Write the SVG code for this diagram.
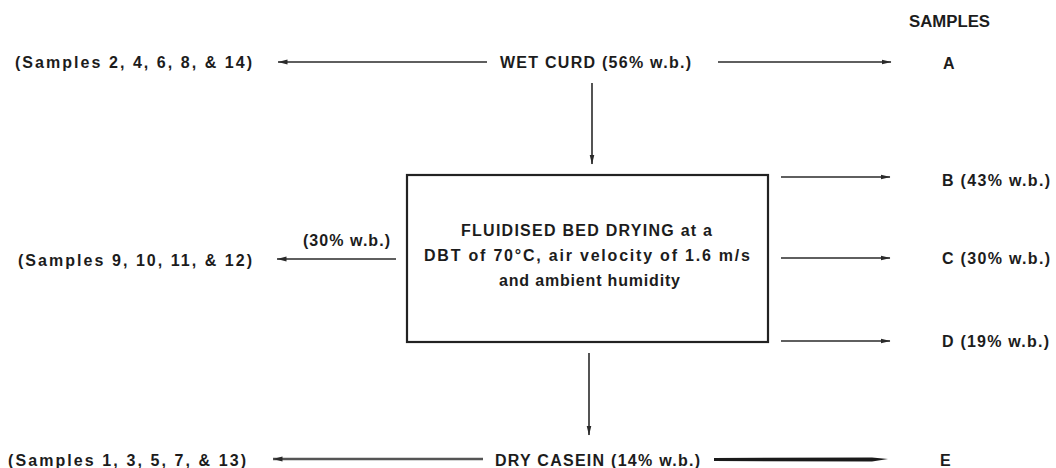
<svg xmlns="http://www.w3.org/2000/svg" width="1056" height="468" viewBox="0 0 1056 468">
  <defs>
    <style>
      .t { font-family: "Liberation Sans", Arial, sans-serif; font-size: 16px; font-weight: bold; fill: #1c1c1c; }
      .ln { stroke: #2a2a2a; stroke-width: 1.6; fill: none; }
      .box { stroke: #222; stroke-width: 2.2; fill: #ffffff; }
    </style>
    <marker id="ah" viewBox="0 0 10 6" refX="9.5" refY="3" markerWidth="10" markerHeight="6" markerUnits="userSpaceOnUse" orient="auto">
      <path d="M0,0.6 L10,3 L0,5.4 Z" fill="#2a2a2a"/>
    </marker>
    <marker id="ahv" viewBox="0 0 8 10" refX="4" refY="9.5" markerWidth="8" markerHeight="10" markerUnits="userSpaceOnUse" orient="auto-start-reverse">
      <path d="M0,0 L8,0 L4,10 Z" fill="#2a2a2a" transform="rotate(-90 4 5)"/>
    </marker>
  </defs>
  <rect width="1056" height="468" fill="#ffffff"/>

  <text class="t" x="909" y="27" textLength="81" lengthAdjust="spacingAndGlyphs">SAMPLES</text>

  <g id="connectors">
    <line class="ln" x1="487" y1="62" x2="278" y2="62" marker-end="url(#ah)"/>
    <line class="ln" x1="718" y1="62" x2="891" y2="62" marker-end="url(#ah)"/>
    <line class="ln" x1="592" y1="83" x2="592" y2="164" marker-end="url(#ah)"/>
    <line class="ln" x1="396" y1="259" x2="277" y2="259" marker-end="url(#ah)"/>
    <line class="ln" x1="781" y1="177" x2="890" y2="177" marker-end="url(#ah)"/>
    <line class="ln" x1="781" y1="258" x2="890" y2="258" marker-end="url(#ah)"/>
    <line class="ln" x1="781" y1="341" x2="890" y2="341" marker-end="url(#ah)"/>
    <line class="ln" x1="589" y1="353" x2="589" y2="435" marker-end="url(#ah)"/>
    <line x1="483" y1="459" x2="273" y2="459" stroke="#555" stroke-width="2.4" marker-end="url(#ah)"/>
    <path d="M714,458 L872,457.5 L888,459 L872,461.5 L714,461 Z" fill="#1a1a1a"/>
  </g>

  <g id="wet-curd">
    <text class="t" x="500" y="68" textLength="191" lengthAdjust="spacing">WET CURD (56% w.b.)</text>
  </g>
  <g id="samples-even">
    <text class="t" x="15" y="68" textLength="237" lengthAdjust="spacing">(Samples 2, 4, 6, 8, &amp; 14)</text>
  </g>
  <g id="sample-a">
    <text class="t" x="943" y="69">A</text>
  </g>

  <g id="dryer">
    <rect class="box" x="407" y="175" width="361" height="167"/>
    <text class="t" x="461" y="236" textLength="251" lengthAdjust="spacing">FLUIDISED BED DRYING at a</text>
    <text class="t" x="424" y="261" textLength="326" lengthAdjust="spacing">DBT of 70°C, air velocity of 1.6 m/s</text>
    <text class="t" x="499" y="286" textLength="181" lengthAdjust="spacing">and ambient humidity</text>
  </g>

  <g id="samples-mid">
    <text class="t" x="303" y="246" textLength="87" lengthAdjust="spacing">(30% w.b.)</text>
    <text class="t" x="18" y="266" textLength="234" lengthAdjust="spacing">(Samples 9, 10, 11, &amp; 12)</text>
  </g>

  <g id="sample-b">
    <text class="t" x="942" y="186" textLength="108" lengthAdjust="spacing">B (43% w.b.)</text>
  </g>
  <g id="sample-c">
    <text class="t" x="942" y="264" textLength="108" lengthAdjust="spacing">C (30% w.b.)</text>
  </g>
  <g id="sample-d">
    <text class="t" x="942" y="347" textLength="107" lengthAdjust="spacing">D (19% w.b.)</text>
  </g>

  <g id="dry-casein">
    <text class="t" x="495" y="466" textLength="205" lengthAdjust="spacing">DRY CASEIN (14% w.b.)</text>
  </g>
  <g id="samples-odd">
    <text class="t" x="8" y="466" textLength="238" lengthAdjust="spacing">(Samples 1, 3, 5, 7, &amp; 13)</text>
  </g>
  <g id="sample-e">
    <text class="t" x="940" y="466">E</text>
  </g>
</svg>
